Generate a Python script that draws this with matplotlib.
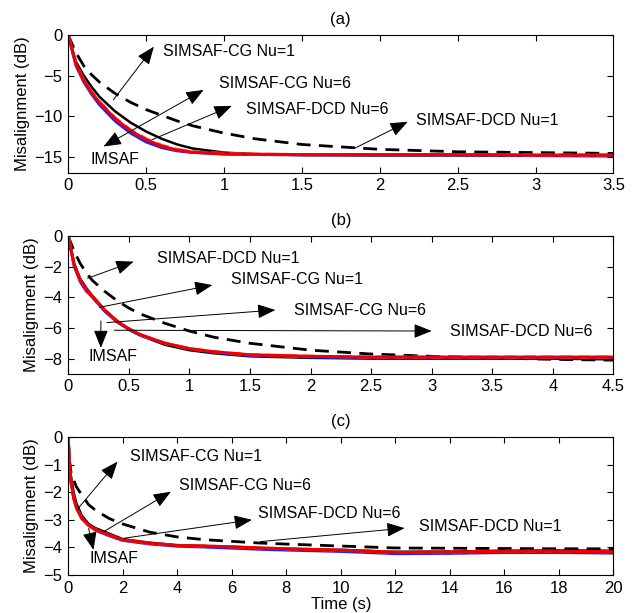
import numpy as np
import matplotlib
matplotlib.use('Agg')
import matplotlib.pyplot as plt
from matplotlib.ticker import FuncFormatter

plt.rcParams.update({'font.family': ['Liberation Sans', 'DejaVu Sans'],
                     'axes.linewidth': 0.8,
                     'xtick.direction': 'in', 'ytick.direction': 'in',
                     'xtick.top': True, 'ytick.right': True,
                     'xtick.major.size': 4.5, 'ytick.major.size': 4.5,
                     'xtick.labelsize': 12, 'ytick.labelsize': 12})

# ---- panel (a) data
t_a = [0, 0.05, 0.1, 0.15, 0.2, 0.3, 0.4, 0.5, 0.6, 0.7, 0.8, 1.0, 1.2, 1.5, 2.0, 2.5, 3.0, 3.5]
imsaf_a = [0, -3.8, -5.8, -7.3, -8.6, -10.6, -12.1, -13.2, -13.9, -14.3, -14.5, -14.7, -14.75, -14.8, -14.8, -14.8, -14.85, -14.85]
cg1_a = [0, -3.3, -5.0, -6.4, -7.6, -9.4, -10.8, -11.9, -12.8, -13.5, -14.0, -14.5, -14.7, -14.8, -14.85, -14.85, -14.9, -14.95]
cg6_a = [0, -3.6, -5.6, -7.1, -8.3, -10.3, -11.8, -12.9, -13.7, -14.2, -14.45, -14.65, -14.7, -14.75, -14.75, -14.75, -14.8, -14.8]
dcd6_a = [0, -3.6, -5.5, -7.0, -8.2, -10.2, -11.7, -12.8, -13.6, -14.1, -14.4, -14.6, -14.7, -14.75, -14.75, -14.75, -14.8, -14.8]
dcd1_a = [0, -2.2, -3.8, -4.9, -5.8, -7.2, -8.3, -9.2, -9.9, -10.6, -11.2, -12.1, -12.8, -13.5, -14.1, -14.4, -14.5, -14.6]

# ---- panel (b) data
t_b = [0, 0.05, 0.1, 0.15, 0.2, 0.3, 0.4, 0.5, 0.6, 0.8, 1.0, 1.2, 1.5, 2.0, 2.5, 3.0, 3.5, 4.0, 4.5]
imsaf_b = [0, -2.0, -3.0, -3.6, -4.0, -4.9, -5.6, -6.1, -6.5, -7.0, -7.35, -7.6, -7.8, -7.9, -7.95, -7.95, -7.95, -7.95, -7.95]
cg1_b = [0, -1.8, -2.8, -3.4, -3.9, -4.8, -5.5, -6.1, -6.5, -7.1, -7.45, -7.65, -7.85, -7.95, -8.0, -8.0, -8.0, -8.0, -8.05]
cg6_b = [0, -1.9, -2.9, -3.5, -3.95, -4.85, -5.55, -6.05, -6.45, -7.0, -7.35, -7.55, -7.75, -7.85, -7.9, -7.9, -7.9, -7.9, -7.9]
dcd6_b = [0, -1.9, -2.9, -3.5, -3.95, -4.85, -5.55, -6.05, -6.45, -7.0, -7.35, -7.55, -7.75, -7.85, -7.9, -7.9, -7.9, -7.9, -7.9]
dcd1_b = [0, -1.0, -1.8, -2.4, -2.9, -3.6, -4.2, -4.7, -5.1, -5.7, -6.2, -6.6, -7.0, -7.45, -7.7, -7.85, -7.95, -8.05, -8.1]

# ---- panel (c) data
t_c = [0, 0.05, 0.1, 0.2, 0.3, 0.5, 0.75, 1, 1.5, 2, 3, 4, 5, 6, 7, 8, 10, 12, 14, 16, 18, 20]
imsaf_c = [0, -1.0, -1.6, -2.2, -2.55, -2.95, -3.2, -3.38, -3.58, -3.75, -3.88, -3.96, -3.99, -4.03, -4.07, -4.1, -4.15, -4.23, -4.22, -4.19, -4.19, -4.21]
cg1_c = [0, -0.8, -1.4, -2.0, -2.4, -2.85, -3.15, -3.3, -3.5, -3.7, -3.83, -3.92, -3.95, -3.98, -4.02, -4.05, -4.09, -4.16, -4.15, -4.12, -4.11, -4.12]
cg6_c = [0, -1.0, -1.6, -2.2, -2.55, -2.95, -3.2, -3.35, -3.55, -3.73, -3.85, -3.93, -3.95, -3.98, -4.02, -4.05, -4.1, -4.18, -4.17, -4.14, -4.14, -4.16]
dcd6_c = [0, -1.0, -1.6, -2.2, -2.55, -2.95, -3.2, -3.35, -3.55, -3.73, -3.85, -3.93, -3.95, -3.98, -4.02, -4.05, -4.1, -4.18, -4.17, -4.14, -4.14, -4.16]
dcd1_c = [0, -0.9, -1.25, -1.55, -1.8, -2.1, -2.45, -2.65, -2.95, -3.15, -3.45, -3.62, -3.72, -3.78, -3.84, -3.88, -3.95, -4.02, -4.03, -4.04, -4.05, -4.05]

# annotations: (label, arrow tail, arrow head, text position, text alignment)
notes_a = [('SIMSAF-CG Nu=1', (0.29, -8.0), (0.55, -1.45), (0.61, -2.05), 'left'),
           ('SIMSAF-CG Nu=6', (0.45, -11.33), (0.87, -6.77), (0.97, -5.95), 'left'),
           ('SIMSAF-DCD Nu=6', (0.54, -12.9), (1.05, -8.75), (1.14, -9.15), 'left'),
           ('SIMSAF-DCD Nu=1', (1.84, -13.96), (2.18, -10.7), (2.23, -10.5), 'left'),
           ('IMSAF', (0.45, -11.33), (0.227, -13.75), (0.30, -15.4), 'center')]
notes_b = [('SIMSAF-DCD Nu=1', (0.16, -2.76), (0.54, -1.67), (0.73, -1.46), 'left'),
           ('SIMSAF-CG Nu=1', (0.26, -4.65), (1.19, -3.2), (1.34, -2.87), 'left'),
           ('SIMSAF-CG Nu=6', (0.32, -5.65), (1.71, -4.83), (1.86, -4.83), 'left'),
           ('SIMSAF-DCD Nu=6', (0.38, -6.15), (3.0, -6.2), (3.15, -6.24), 'left'),
           ('IMSAF', (0.27, -5.55), (0.27, -7.3), (0.37, -7.87), 'center')]
notes_c = [('SIMSAF-CG Nu=1', (0.32, -2.64), (1.81, -0.89), (2.27, -0.69), 'left'),
           ('SIMSAF-CG Nu=6', (1.3, -3.43), (3.77, -1.98), (4.05, -1.74), 'left'),
           ('SIMSAF-DCD Nu=6', (2.03, -3.67), (6.74, -3.0), (6.98, -2.77), 'left'),
           ('SIMSAF-DCD Nu=1', (7.05, -3.79), (12.34, -3.3), (12.86, -3.25), 'left'),
           ('IMSAF', (0.75, -3.31), (0.93, -4.09), (1.69, -4.39), 'center')]

fmt = FuncFormatter(lambda v, p: ('%g' % v).replace('-', '\u2212'))


def panel(ax, t, imsaf, cg1, cg6, dcd6, dcd1, notes, title, xlim, ylim, xticks, yticks):
    ax.plot(t, dcd1, color='black', lw=2, ls=(0, (5, 3)))
    ax.plot(t, cg1, color='black', lw=1.8)
    ax.plot(t, imsaf, color='#2020ff', lw=2)
    ax.plot(t, dcd6, color='#ff5050', lw=2.2, ls=(0, (4, 2)))
    ax.plot(t, cg6, color='#ee0000', lw=2.2)
    for label, tail, head, pos, ha in notes:
        ax.annotate('', xy=head, xytext=tail,
                    arrowprops=dict(arrowstyle='-|>,head_length=1.0,head_width=0.4',
                                    color='black', lw=0.7, shrinkA=0, shrinkB=0,
                                    mutation_scale=11))
        ax.text(pos[0], pos[1], label, ha=ha, va='center', fontsize=11.5)
    ax.set_xlim(xlim)
    ax.set_ylim(ylim)
    ax.set_xticks(xticks)
    ax.set_yticks(yticks)
    ax.xaxis.set_major_formatter(fmt)
    ax.yaxis.set_major_formatter(fmt)
    ax.tick_params(pad=4)
    ax.set_title(title, fontsize=12, pad=8)
    ax.set_ylabel('Misalignment (dB)', fontsize=12, labelpad=3)


fig = plt.figure(figsize=(6.37, 6.13), dpi=100)
ax1 = fig.add_axes([0.107, 0.718, 0.856, 0.225])
ax2 = fig.add_axes([0.107, 0.390, 0.856, 0.225])
ax3 = fig.add_axes([0.107, 0.062, 0.856, 0.225])

panel(ax1, t_a, imsaf_a, cg1_a, cg6_a, dcd6_a, dcd1_a, notes_a, '(a)',
      (0, 3.5), (-17, 0), np.arange(0, 3.51, 0.5), [-15, -10, -5, 0])
panel(ax2, t_b, imsaf_b, cg1_b, cg6_b, dcd6_b, dcd1_b, notes_b, '(b)',
      (0, 4.5), (-9, 0), np.arange(0, 4.51, 0.5), [-8, -6, -4, -2, 0])
panel(ax3, t_c, imsaf_c, cg1_c, cg6_c, dcd6_c, dcd1_c, notes_c, '(c)',
      (0, 20), (-5, 0), np.arange(0, 21, 2), [-5, -4, -3, -2, -1, 0])
ax3.set_xlabel('Time (s)', fontsize=12, labelpad=1)

fig.savefig('out.png', dpi=100)
